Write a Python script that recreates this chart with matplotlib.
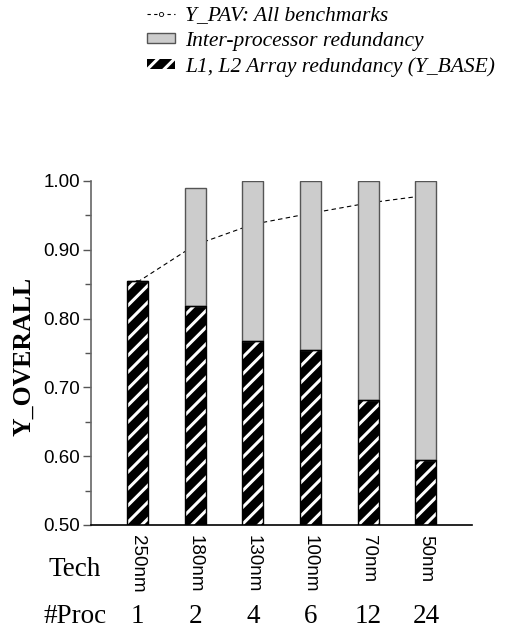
import matplotlib
matplotlib.use("Agg")
from matplotlib import pyplot as plt
from matplotlib.patches import Patch
from matplotlib.lines import Line2D
from matplotlib.ticker import MultipleLocator
import matplotlib.transforms as mtransforms

# data
tech = ["250nm", "180nm", "130nm", "100nm", "70nm", "50nm"]
procs = ["1", "2", "4", "6", "12", "24"]
y_base = [0.854, 0.818, 0.768, 0.755, 0.682, 0.594]
y_total = [0.854, 0.990, 1.000, 1.000, 1.000, 1.000]
y_pav = [0.853, 0.907, 0.937, 0.953, 0.968, 0.979]

SERIF = ["Liberation Serif", "DejaVu Serif"]
SANS = ["Liberation Sans", "DejaVu Sans"]


def main():
    plt.rcParams["hatch.linewidth"] = 2.2
    fig = plt.figure(figsize=(5.06, 6.30), dpi=100)
    ax = fig.add_axes([0.1798, 0.1667, 0.753, 0.546])

    x = list(range(len(tech)))
    width = 0.36
    inter = [t - b for t, b in zip(y_total, y_base)]

    # dashed Y_PAV line sits behind the bars
    ax.plot(x, y_pav, color="black", lw=0.8, dashes=(4, 3), marker="o",
            ms=3, mfc="white", mec="black", mew=0.6, zorder=1)

    ax.bar(x, y_base, width, bottom=0, color="black", edgecolor="white",
           hatch="//", linewidth=0, zorder=2)
    ax.bar(x, y_base, width, bottom=0, fill=False, edgecolor="black",
           linewidth=1.0, zorder=3)
    ax.bar(x, inter, width, bottom=y_base, color="#cccccc",
           edgecolor="#555555", linewidth=1.0, zorder=2)

    ax.set_xlim(-0.806, 5.8)
    ax.set_ylim(0.5, 1.0)
    ax.yaxis.set_minor_locator(MultipleLocator(0.05))
    ax.set_yticks([0.5, 0.6, 0.7, 0.8, 0.9, 1.0])
    ax.set_yticklabels(["0.50", "0.60", "0.70", "0.80", "0.90", "1.00"],
                       family=SANS, fontsize=13.5)
    ax.tick_params(axis="y", which="major", length=6, width=1, color="#555555", pad=2)
    ax.tick_params(axis="y", which="minor", length=4, width=1, color="#555555")
    ax.set_xticks([])
    for s in ["top", "right"]:
        ax.spines[s].set_visible(False)
    ax.spines["left"].set_color("#666666")
    ax.spines["left"].set_linewidth(1.2)
    ax.spines["bottom"].set_color("black")
    ax.spines["bottom"].set_linewidth(1.2)

    fig.text(24 / 506, 1 - 356 / 630, "Y_OVERALL", rotation=90, ha="center",
             va="center", family=SERIF, fontweight="bold", fontsize=18.5)

    trans = mtransforms.blended_transform_factory(ax.transData, fig.transFigure)
    for i, (t, p) in enumerate(zip(tech, procs)):
        ax.text(i, 1 - 535 / 630, t, rotation=270, ha="center", va="top",
                family=SANS, fontsize=13.5, transform=trans)
        ax.text(i, 1 - 623 / 630, p, ha="center", va="baseline",
                family=SERIF, fontsize=19.5, transform=trans)
    fig.text(75 / 506, 1 - 576 / 630, "Tech", ha="center", va="baseline",
             family=SERIF, fontsize=19.5)
    fig.text(75 / 506, 1 - 623 / 630, "#Proc", ha="center", va="baseline",
             family=SERIF, fontsize=19.5)

    handles = [
        Line2D([], [], color="black", lw=0.8, dashes=(3, 3), marker="o",
               ms=3, mfc="white", mec="black", mew=0.6),
        Patch(facecolor="#cccccc", edgecolor="#555555", linewidth=1.0),
        Patch(facecolor="black", edgecolor="white", hatch="//", linewidth=0),
    ]
    labels = ["Y_PAV: All benchmarks", "Inter-processor redundancy",
              "L1, L2 Array redundancy (Y_BASE)"]
    fig.legend(handles, labels, loc="upper left",
               bbox_to_anchor=(143 / 506, 1 - 2 / 630),
               frameon=False, handlelength=1.3, handleheight=0.3,
               handletextpad=0.45, labelspacing=0.3, borderaxespad=0.0,
               borderpad=0.2,
               prop={"family": SERIF, "style": "italic", "size": 15.5})

    fig.savefig("out.png", dpi=100)


if __name__ == "__main__":
    main()
